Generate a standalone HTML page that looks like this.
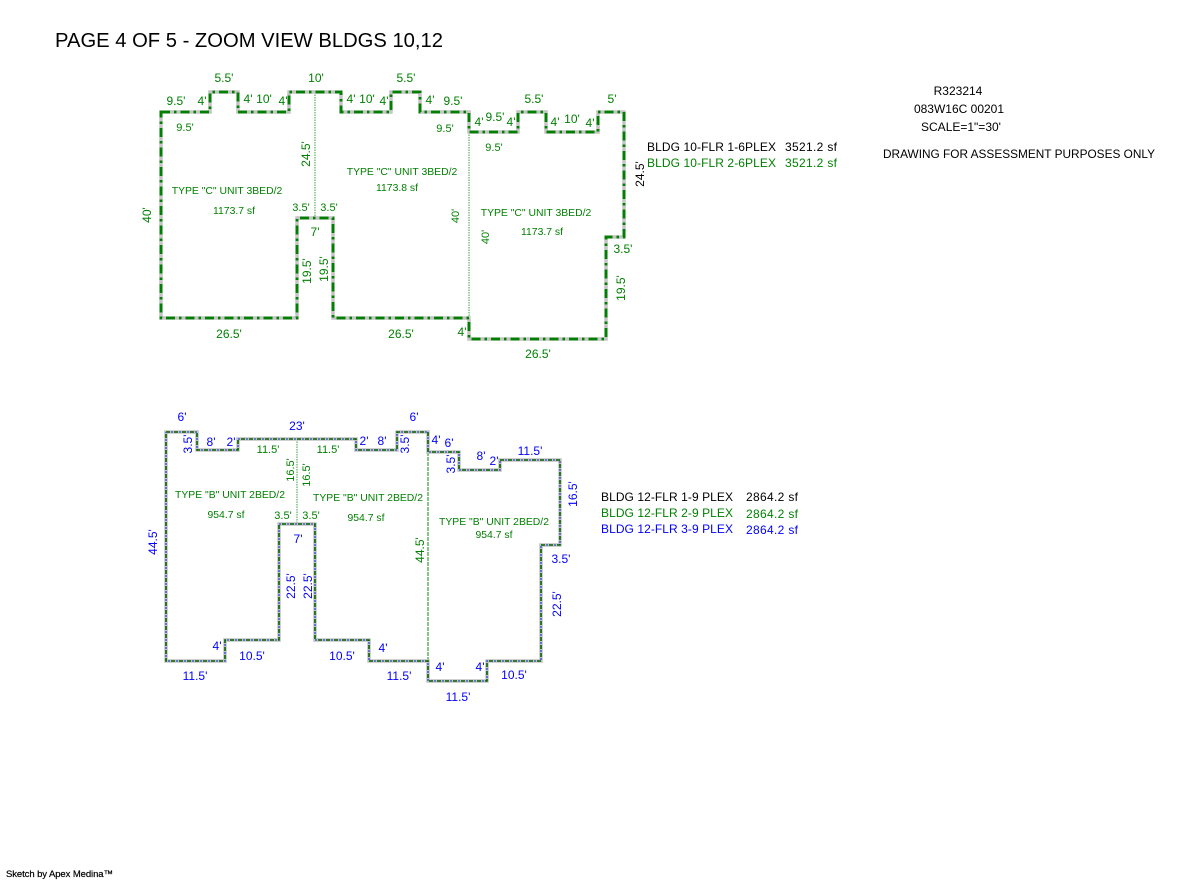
<!DOCTYPE html>
<html>
<head>
<meta charset="utf-8">
<style>
html,body{margin:0;padding:0;background:#fff;width:1200px;height:880px;overflow:hidden}
svg{display:block;font-family:"Liberation Sans",Arial,sans-serif}
text{white-space:pre}
.g{fill:#008000}.b{fill:#0000ff}.k{fill:#000}
.l{font-size:12px;text-anchor:middle}
.s{font-size:11px;text-anchor:middle}
.t{font-size:10.4px;text-anchor:middle;fill:#008000}
.m{font-size:12px}
</style>
</head>
<body>
<svg width="1200" height="880" viewBox="0 0 1200 880" xmlns="http://www.w3.org/2000/svg">
<rect width="1200" height="880" fill="#fff"/>
<text x="55" y="47" font-size="20" fill="#000" textLength="388" lengthAdjust="spacingAndGlyphs">PAGE 4 OF 5 - ZOOM VIEW BLDGS 10,12</text>

<!-- Building 10 -->
<g fill="none">
<path d="M315 92V218M469 132V318" stroke="#7fbf7f" stroke-width="1.5" stroke-dasharray="1.5 1"/>
<path d="M161 112H210V92H238V112H289V92H341V112H391V92H420V112H469V132H518V112H546V132H598V112H624V237H606V339H469V318H333V218H297V318H161Z" stroke="#c4c4c4" stroke-width="3.5"/>
<path d="M161 112H210V92H238V112H289V92H341V112H391V92H420V112H469V132H518V112H546V132H598V112H624V237H606V339H469V318H333V218H297V318H161Z" stroke="#008000" stroke-width="2.8" stroke-dasharray="9 4 2.5 4"/>
</g>

<g class="g">
<text class="l" x="224" y="82">5.5'</text>
<text class="l" x="316" y="82">10'</text>
<text class="l" x="406" y="82">5.5'</text>
<text class="l" x="176" y="105">9.5'</text>
<text class="l" x="202" y="105">4'</text>
<text class="l" x="248" y="103">4'</text>
<text class="l" x="264" y="103">10'</text>
<text class="l" x="283" y="105">4'</text>
<text class="l" x="351" y="103">4'</text>
<text class="l" x="367" y="103">10'</text>
<text class="l" x="384" y="105">4'</text>
<text class="l" x="430" y="104">4'</text>
<text class="l" x="453" y="105">9.5'</text>
<text class="l" x="479" y="126">4'</text>
<text class="l" x="495" y="121">9.5'</text>
<text class="l" x="511" y="126">4'</text>
<text class="l" x="534" y="103">5.5'</text>
<text class="l" x="555" y="126">4'</text>
<text class="l" x="572" y="123">10'</text>
<text class="l" x="590" y="127">4'</text>
<text class="l" x="612" y="103">5'</text>
<text class="l" x="623" y="253">3.5'</text>
<text class="l" x="538" y="358">26.5'</text>
<text class="l" x="462" y="336">4'</text>
<text class="l" x="401" y="338">26.5'</text>
<text class="l" x="229" y="338">26.5'</text>
<text class="l" x="315" y="236">7'</text>
<text class="s" x="185" y="131">9.5'</text>
<text class="s" x="445" y="132">9.5'</text>
<text class="s" x="494" y="151">9.5'</text>
<text class="s" x="301" y="211">3.5'</text>
<text class="s" x="329" y="211">3.5'</text>
<text class="l" transform="translate(151 215) rotate(-90)">40'</text>
<text class="l" transform="translate(310 154) rotate(-90)">24.5'</text>
<text class="l" transform="translate(311 271) rotate(-90)">19.5'</text>
<text class="l" transform="translate(328 269) rotate(-90)">19.5'</text>
<text class="l" transform="translate(625 288) rotate(-90)">19.5'</text>
<text class="s" transform="translate(459 216) rotate(-90)">40'</text>
<text class="s" transform="translate(489 237) rotate(-90)">40'</text>
</g>
<text class="l k" transform="translate(644 174) rotate(-90)">24.5'</text>

<text class="t" x="227" y="194">TYPE "C" UNIT 3BED/2</text>
<text class="t" x="402" y="175">TYPE "C" UNIT 3BED/2</text>
<text class="t" x="536" y="216">TYPE "C" UNIT 3BED/2</text>
<text class="t" x="234" y="214">1173.7 sf</text>
<text class="t" x="397" y="191">1173.8 sf</text>
<text class="t" x="542" y="235">1173.7 sf</text>

<!-- Building 12 -->
<g fill="none">
<path d="M297 439V524" stroke="#7fbf7f" stroke-width="1.5" stroke-dasharray="1.5 1"/>
<path d="M428 452V661" stroke="#60b060" stroke-width="1.5" stroke-dasharray="4 1"/>
<path d="M166 432H197V450H238V439H356V450H397V432H428V452H459V470H500V460H560V545H541V661H487V681H428V661H369V640H315V524H279V640H225V661H166Z" stroke="#c0c0c0" stroke-width="3.5"/>
<path d="M166 432H197V450H238V439H356V450H397V432H428V452H459V470H500V460H560V545H541V661H487V681H428V661H369V640H315V524H279V640H225V661H166Z" stroke="#006400" stroke-width="1.6" stroke-dasharray="4 4"/>
<path d="M166 432H197V450H238V439H356V450H397V432H428V452H459V470H500V460H560V545H541V661H487V681H428V661H369V640H315V524H279V640H225V661H166Z" stroke="#4a5fd0" stroke-width="1.6" stroke-dasharray="2 6" stroke-dashoffset="-5"/>
</g>

<g class="b">
<text class="l" x="182" y="421">6'</text>
<text class="l" x="414" y="421">6'</text>
<text class="l" x="297" y="430">23'</text>
<text class="l" x="211" y="446">8'</text>
<text class="l" x="231" y="446">2'</text>
<text class="l" x="364" y="445">2'</text>
<text class="l" x="382" y="445">8'</text>
<text class="l" x="436" y="444">4'</text>
<text class="l" x="449" y="447">6'</text>
<text class="l" x="481" y="460">8'</text>
<text class="l" x="494" y="465">2'</text>
<text class="l" x="530" y="455">11.5'</text>
<text class="l" x="561" y="563">3.5'</text>
<text class="l" x="440" y="671">4'</text>
<text class="l" x="480" y="671">4'</text>
<text class="l" x="514" y="679">10.5'</text>
<text class="l" x="458" y="701">11.5'</text>
<text class="l" x="399" y="680">11.5'</text>
<text class="l" x="383" y="652">4'</text>
<text class="l" x="342" y="660">10.5'</text>
<text class="l" x="252" y="660">10.5'</text>
<text class="l" x="195" y="680">11.5'</text>
<text class="l" x="217" y="650">4'</text>
<text class="l" x="298" y="543">7'</text>
<text class="l" transform="translate(192 444) rotate(-90)">3.5'</text>
<text class="l" transform="translate(409 444) rotate(-90)">3.5'</text>
<text class="l" transform="translate(455 464) rotate(-90)">3.5'</text>
<text class="l" transform="translate(577 494) rotate(-90)">16.5'</text>
<text class="l" transform="translate(561 604) rotate(-90)">22.5'</text>
<text class="l" transform="translate(295 586) rotate(-90)">22.5'</text>
<text class="l" transform="translate(312 586) rotate(-90)">22.5'</text>
<text class="l" transform="translate(157 542) rotate(-90)">44.5'</text>
</g>
<g class="g">
<text class="l" transform="translate(424 550) rotate(-90)">44.5'</text>
<text class="s" x="268" y="453">11.5'</text>
<text class="s" x="328" y="453">11.5'</text>
<text class="s" x="283" y="519">3.5'</text>
<text class="s" x="311" y="519">3.5'</text>
<text class="s" transform="translate(294 470) rotate(-90)">16.5'</text>
<text class="s" transform="translate(310 475) rotate(-90)">16.5'</text>
</g>
<text class="t" x="230" y="498">TYPE "B" UNIT 2BED/2</text>
<text class="t" x="368" y="501">TYPE "B" UNIT 2BED/2</text>
<text class="t" x="494" y="525">TYPE "B" UNIT 2BED/2</text>
<text class="t" x="226" y="518">954.7 sf</text>
<text class="t" x="366" y="521">954.7 sf</text>
<text class="t" x="494" y="538">954.7 sf</text>

<!-- Legends -->
<text class="m k" x="647" y="151" textLength="129">BLDG 10-FLR 1-6PLEX</text>
<text class="m k" x="785" y="151" textLength="52">3521.2 sf</text>
<text class="m g" x="647" y="167" textLength="129">BLDG 10-FLR 2-6PLEX</text>
<text class="m g" x="785" y="167" textLength="52">3521.2 sf</text>

<text class="m k" x="601" y="501" textLength="132">BLDG 12-FLR 1-9 PLEX</text>
<text class="m k" x="746" y="501" textLength="52">2864.2 sf</text>
<text class="m g" x="601" y="517" textLength="132">BLDG 12-FLR 2-9 PLEX</text>
<text class="m g" x="746" y="518" textLength="52">2864.2 sf</text>
<text class="m b" x="601" y="533" textLength="132">BLDG 12-FLR 3-9 PLEX</text>
<text class="m b" x="746" y="534" textLength="52">2864.2 sf</text>

<text class="l k" x="958" y="95">R323214</text>
<text class="l k" x="959" y="113">083W16C 00201</text>
<text class="l k" x="961" y="131">SCALE=1"=30'</text>
<text class="l k" x="1019" y="158" textLength="272" lengthAdjust="spacingAndGlyphs">DRAWING FOR ASSESSMENT PURPOSES ONLY</text>

<text x="6" y="877" font-size="9.5" fill="#000" stroke="#000" stroke-width="0.2" textLength="107">Sketch by Apex Medina™</text>
</svg>
</body>
</html>
